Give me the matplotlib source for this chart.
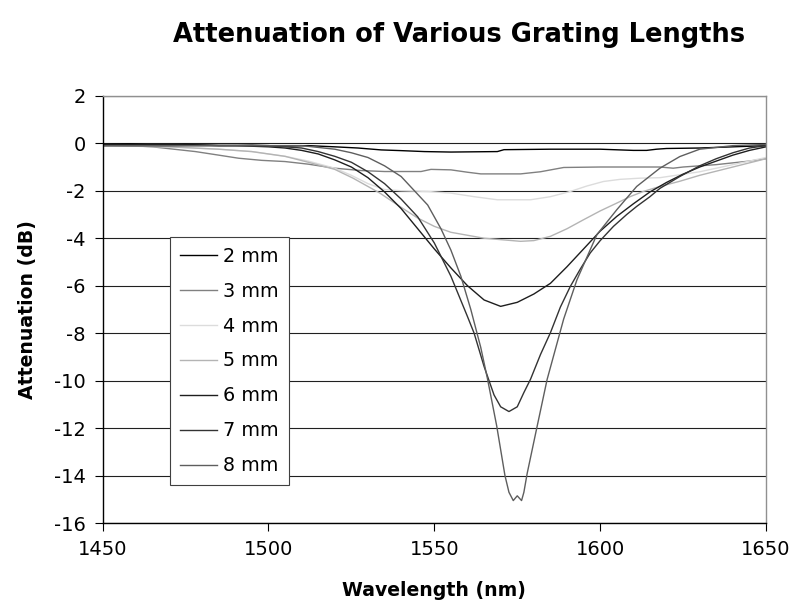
import matplotlib
matplotlib.use('Agg')
import matplotlib.pyplot as plt
import numpy as np

plt.rcParams['font.family'] = ['DejaVu Sans']
plt.rcParams['axes.unicode_minus'] = False

# wavelength (nm) / attenuation (dB), one pair per grating length
wl_2mm = [1450, 1458, 1466, 1475, 1485, 1495, 1505, 1512, 1520, 1527, 1534, 1540, 1547, 1555, 1569,
          1571, 1585, 1600, 1610, 1614, 1617, 1620, 1630, 1640, 1650]
att_2mm = [-0.05, -0.02, -0.08, -0.05, -0.1, -0.08, -0.12, -0.1, -0.15, -0.2, -0.28, -0.31, -0.35, -0.37, -0.35,
           -0.27, -0.25, -0.25, -0.3, -0.3, -0.25, -0.22, -0.2, -0.15, -0.1]

wl_3mm = [1450, 1455, 1465, 1478, 1485, 1491, 1498, 1505, 1512, 1520, 1528, 1535, 1546, 1549, 1555,
          1560, 1564, 1576, 1582, 1589, 1600, 1618, 1622, 1625, 1635, 1645, 1650]
att_3mm = [-0.1, -0.07, -0.15, -0.35, -0.5, -0.63, -0.72, -0.77, -0.88, -1.05, -1.15, -1.19, -1.19, -1.1, -1.12,
           -1.22, -1.29, -1.29, -1.2, -1.02, -1.0, -1.0, -1.05, -1.0, -0.9, -0.75, -0.65]

wl_4mm = [1450, 1470, 1485, 1495, 1505, 1512, 1520, 1525, 1530, 1535, 1540, 1548, 1555, 1562, 1569,
          1579, 1585, 1591, 1596, 1601, 1606, 1612, 1618, 1630, 1640, 1650]
att_4mm = [-0.1, -0.15, -0.25, -0.35, -0.55, -0.75, -1.05, -1.35, -1.7, -1.95, -2.0, -2.03, -2.1, -2.25, -2.38,
           -2.38, -2.25, -2.03, -1.8, -1.61, -1.52, -1.47, -1.45, -1.2, -0.9, -0.6]

wl_5mm = [1450, 1470, 1485, 1495, 1505, 1512, 1520, 1525.5, 1533.6, 1540, 1545, 1550, 1555, 1565, 1576,
          1580, 1585, 1590, 1595, 1600, 1605, 1609, 1613, 1618, 1624, 1630, 1640, 1650]
att_5mm = [-0.1, -0.15, -0.25, -0.35, -0.55, -0.8, -1.1, -1.47, -2.1, -2.7, -3.15, -3.5, -3.75, -4.0, -4.13,
           -4.1, -3.92, -3.6, -3.22, -2.85, -2.52, -2.25, -2.03, -1.82, -1.6, -1.35, -1.0, -0.65]

wl_6mm = [1450, 1470, 1490, 1500, 1505, 1510, 1515, 1520, 1525, 1530, 1535, 1540, 1545, 1550, 1555,
          1560, 1565, 1570, 1575, 1580, 1585, 1590, 1595, 1600, 1605, 1610, 1615, 1620, 1625, 1630,
          1635, 1640, 1645, 1650]
att_6mm = [-0.05, -0.05, -0.1, -0.15, -0.2, -0.3, -0.45, -0.7, -1.0, -1.45, -2.05, -2.75, -3.6, -4.45, -5.25,
           -6.0, -6.6, -6.87, -6.7, -6.35, -5.9, -5.2, -4.45, -3.7, -3.08, -2.55, -2.05, -1.65, -1.3, -1.0,
           -0.75, -0.5, -0.3, -0.15]

wl_7mm = [1450, 1480, 1500, 1510, 1515, 1520, 1525, 1530, 1535, 1540, 1545, 1550, 1555, 1560, 1562,
          1565, 1568, 1570, 1572.5, 1575, 1577, 1579, 1582, 1585, 1588, 1591, 1594, 1597, 1600, 1604,
          1608, 1611, 1615, 1618, 1624, 1630, 1635, 1640, 1645, 1650]
att_7mm = [-0.1, -0.1, -0.1, -0.2, -0.35, -0.55, -0.8, -1.2, -1.7, -2.35, -3.1, -4.2, -5.6, -7.3, -8.0,
           -9.4, -10.6, -11.1, -11.3, -11.1, -10.5, -9.94, -8.9, -7.98, -6.9, -6.03, -5.3, -4.62, -4.1, -3.5,
           -3.0, -2.66, -2.25, -1.9, -1.4, -0.95, -0.65, -0.4, -0.2, -0.1]

wl_8mm = [1450, 1480, 1500, 1510, 1520, 1525, 1530, 1535, 1540, 1544, 1548, 1552, 1555, 1558, 1561,
          1564, 1566, 1568.8, 1571.3, 1572.5, 1573.8, 1575, 1576.3, 1577, 1578, 1580.8, 1584, 1589, 1593, 1599,
          1605, 1611, 1618, 1624, 1630, 1640, 1650]
att_8mm = [-0.1, -0.1, -0.1, -0.1, -0.25, -0.4, -0.6, -0.95, -1.4, -2.0, -2.6, -3.6, -4.5, -5.6, -7.0,
           -8.6, -9.9, -11.9, -14.0, -14.7, -15.05, -14.85, -15.05, -14.7, -13.9, -12.05, -9.95, -7.4, -5.75, -3.85,
           -2.8, -1.82, -1.05, -0.56, -0.25, -0.1, -0.05]

labels = ['2 mm', '3 mm', '4 mm', '5 mm', '6 mm', '7 mm', '8 mm']
colors = ['#000000', '#808080', '#dcdcdc', '#b4b4b4', '#1e1e1e', '#333333', '#5e5e5e']
series = [(wl_2mm, att_2mm), (wl_3mm, att_3mm), (wl_4mm, att_4mm), (wl_5mm, att_5mm),
          (wl_6mm, att_6mm), (wl_7mm, att_7mm), (wl_8mm, att_8mm)]

fig = plt.figure(figsize=(7.95, 6.14), dpi=100)
ax = fig.add_axes([0.129, 0.148, 0.8346, 0.696])

for (wl, att), lab, c in zip(series, labels, colors):
    ax.plot(wl, att, color=c, lw=1.0, label=lab)

ax.set_xlim(1450, 1650)
ax.set_ylim(-16, 2)
ax.set_xticks(np.arange(1450, 1651, 50))
ax.set_yticks(np.arange(-16, 2.1, 2))
ax.yaxis.grid(True, color='#202020', lw=0.8)
ax.set_axisbelow(True)
ax.tick_params(direction='out', length=6, width=0.8, labelsize=14, color='black', pad=6)
for s in ['left', 'bottom']:
    ax.spines[s].set_color('black')
    ax.spines[s].set_linewidth(1.0)
for s in ['top', 'right']:
    ax.spines[s].set_color('#909090')
    ax.spines[s].set_linewidth(1.0)

leg = ax.legend(loc='upper left', bbox_to_anchor=(0.1017, 0.670), borderaxespad=0, fontsize=13.8,
                handlelength=1.93, handletextpad=0.31, labelspacing=0.83,
                fancybox=False, framealpha=1, edgecolor='#404040', borderpad=0.52)
leg.get_frame().set_linewidth(0.8)

fig.text(0.577, 0.943, 'Attenuation of Various Grating Lengths', ha='center', va='center',
         fontsize=18.5, fontweight='bold')
fig.text(0.546, 0.039, 'Wavelength (nm)', ha='center', va='center', fontsize=13.6, fontweight='bold')
fig.text(0.035, 0.496, 'Attenuation (dB)', ha='center', va='center', rotation=90,
         fontsize=13.6, fontweight='bold')

fig.savefig('out.png', dpi=100)
